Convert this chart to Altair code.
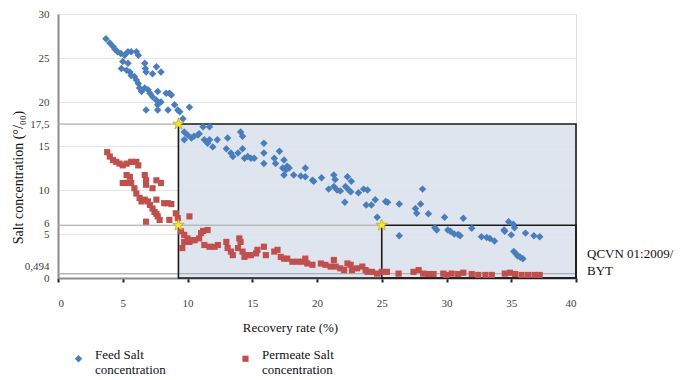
import altair as alt
import pandas as pd

# ---------------- data ----------------
series_names = ["Feed Salt concentration", "Permeate Salt concentration"]

feed_x = [3.7, 4.0, 4.25, 4.4, 4.6, 4.85, 5.15, 5.4, 5.65, 6.05, 6.2, 5.0, 4.9, 5.3, 5.4, 5.55, 5.65,
          5.9, 6.05, 6.2, 6.7, 6.75, 6.8, 7.6, 7.3, 7.95, 6.3, 6.45, 6.7, 6.95, 7.1, 7.3, 7.6, 7.7,
          7.95, 7.7, 8.35, 8.6, 8.75, 6.8, 7.7, 8.5, 9.0, 9.25, 9.4, 10.15, 9.65, 9.75, 9.75, 10.0,
          10.3, 10.5, 10.8, 10.9, 11.2, 11.7, 11.3, 11.55, 11.7, 11.95, 12.3, 13.1, 13.0, 13.35, 13.5,
          13.9, 14.1, 14.25, 14.25, 14.4, 14.65, 14.9, 15.15, 15.9, 15.9, 15.9, 16.7, 16.8, 17.1,
          17.35, 17.45, 17.7, 17.45, 17.6, 17.85, 18.2, 18.75, 19.1, 19.1, 19.65, 19.75, 20.35, 20.9,
          21.3, 21.4, 21.3, 21.55, 21.8, 22.35, 22.2, 22.45, 22.6, 22.65, 23.2, 23.6, 23.9, 22.15,
          23.8, 24.2, 24.5, 25.3, 25.45, 26.35, 24.65, 26.35, 27.6, 27.7, 28.0, 28.15, 28.6, 29.1,
          29.25, 29.85, 30.1, 30.3, 30.6, 30.9, 31.05, 31.3, 31.95, 32.7, 33.1, 33.35, 33.7, 34.45,
          34.5, 34.8, 35.15, 35.25, 35.0, 36.1, 36.75, 37.2, 35.2, 35.4, 35.5, 35.7, 35.9]
feed_y = [27.2, 26.7, 26.3, 26.0, 25.7, 25.5, 25.3, 25.7, 25.7, 25.7, 25.3, 24.6, 23.8, 23.6, 24.4,
          23.4, 23.0, 22.9, 22.5, 22.1, 24.4, 23.8, 23.4, 24.0, 23.2, 23.4, 21.6, 21.2, 21.6, 21.4,
          21.0, 20.6, 20.2, 19.7, 20.0, 21.2, 21.0, 21.0, 20.8, 19.1, 19.1, 19.1, 19.7, 19.1, 18.9,
          19.4, 18.1, 16.6, 15.7, 16.25, 15.9, 16.1, 16.25, 16.4, 17.2, 17.2, 15.7, 15.3, 15.7, 14.9,
          15.7, 15.9, 14.7, 14.2, 13.8, 14.2, 16.6, 16.1, 14.7, 13.6, 13.8, 13.6, 13.6, 15.3, 14.2,
          13.0, 13.6, 13.0, 14.4, 12.5, 11.7, 12.7, 13.4, 12.3, 12.5, 11.7, 11.6, 11.5, 12.5, 11.1,
          11.0, 11.4, 10.1, 11.7, 11.2, 10.4, 10.0, 9.9, 11.5, 10.4, 10.0, 9.8, 11.0, 9.7, 10.1, 10.0,
          8.6, 8.3, 8.3, 8.9, 8.7, 8.6, 8.4, 6.9, 4.8, 7.9, 7.35, 8.4, 10.1, 7.3, 5.7, 5.45, 6.9,
          5.45, 5.3, 5.0, 4.95, 4.8, 6.8, 5.65, 4.7, 4.6, 4.5, 4.2, 5.45, 5.3, 6.4, 6.1, 5.7, 4.9,
          5.1, 4.8, 4.7, 3.0, 2.7, 2.5, 2.35, 2.2]

perm_x = [3.8, 4.0, 4.25, 4.5, 4.75, 5.0, 5.3, 5.65, 6.05, 6.2, 5.3, 5.55, 5.0, 5.4, 5.65, 5.9, 6.05,
          6.3, 6.45, 6.7, 6.95, 7.1, 7.3, 7.45, 7.6, 7.7, 7.85, 6.7, 6.8, 6.8, 7.6, 7.3, 7.95, 7.6,
          8.2, 8.5, 8.75, 6.8, 8.6, 9.1, 9.25, 10.15, 9.5, 9.75, 10.0, 9.6, 9.75, 10.15, 10.4, 10.55,
          10.9, 11.2, 11.55, 11.05, 11.3, 11.7, 12.1, 12.35, 13.0, 13.1, 13.35, 13.5, 13.9, 14.0,
          14.1, 14.25, 14.4, 14.65, 14.9, 15.3, 15.4, 15.9, 16.05, 16.7, 16.95, 17.2, 17.45, 17.7,
          18.1, 18.5, 18.9, 19.1, 19.25, 19.65, 20.3, 20.65, 21.05, 21.3, 21.45, 21.8, 22.1, 22.35,
          22.6, 22.7, 23.1, 23.5, 23.75, 23.9, 24.25, 24.65, 25.0, 25.4, 26.3, 27.45, 27.85, 28.2,
          28.6, 29.0, 29.75, 30.0, 30.4, 30.9, 31.3, 31.95, 32.45, 33.0, 33.5, 34.5, 34.9, 35.3,
          35.8, 36.3, 36.8, 37.2]
perm_y = [14.3, 13.8, 13.4, 13.2, 13.0, 12.8, 13.0, 13.2, 13.2, 12.8, 11.7, 11.5, 10.8, 10.8, 10.8,
          10.2, 9.6, 9.1, 8.7, 8.9, 8.7, 8.3, 7.9, 7.5, 7.3, 7.0, 6.6, 11.7, 11.1, 10.6, 11.1, 10.2,
          10.8, 8.9, 8.5, 8.5, 8.4, 6.4, 6.6, 7.35, 6.8, 7.0, 5.3, 4.9, 4.5, 3.4, 4.1, 4.1, 4.3, 4.3,
          4.5, 5.35, 5.45, 5.1, 3.75, 3.55, 3.55, 3.75, 4.1, 3.4, 3.0, 2.6, 3.4, 4.5, 4.1, 3.0, 2.4,
          2.6, 2.6, 2.8, 3.2, 3.55, 2.6, 3.0, 3.2, 2.4, 2.2, 2.2, 1.85, 1.85, 1.85, 2.2, 1.65, 1.5,
          1.65, 1.5, 1.3, 2.05, 1.3, 1.1, 0.9, 1.65, 1.5, 0.9, 1.1, 1.3, 0.9, 0.7, 0.7, 0.5, 0.7,
          0.7, 0.5, 0.7, 0.9, 0.5, 0.45, 0.45, 0.5, 0.35, 0.5, 0.45, 0.6, 0.45, 0.35, 0.35, 0.35,
          0.5, 0.6, 0.45, 0.35, 0.35, 0.35, 0.35]

# thresholds / zone limits
limit_high = 17.5
limit_mid = 6
limit_low = 0.494
zone1_start = 9.3
zone2_start = 25
x_end = 40

star_x = [9.3, 9.3, 25]
star_y = [17.5, 6, 6]

x_ticks = [0, 5, 10, 15, 20, 25, 30, 35, 40]
y_ticks = [0, 0.494, 5, 6, 10, 15, 17.5, 20, 25, 30]

note_lines = ["QCVN 01:2009/", "BYT"]

# ---------------- tables ----------------
points = pd.DataFrame({
    "x": feed_x + perm_x,
    "y": feed_y + perm_y,
    "series": [series_names[0]] * len(feed_x) + [series_names[1]] * len(perm_x),
})
zones = pd.DataFrame({"x": [zone1_start, zone2_start], "x2": [x_end, x_end],
                      "y": [0, 0], "y2": [limit_high, limit_mid], "kind": ["fill", "box"]})
grey_lines = pd.DataFrame({"x": [0, 0, 0], "x2": [zone1_start, zone2_start, x_end],
                           "y": [limit_high, limit_mid, limit_low]})
stars = pd.DataFrame({"x": star_x, "y": star_y})

SERIF = "Liberation Serif"
xs = alt.Scale(domain=[0, 40], nice=False)
ys = alt.Scale(domain=[0, 30], nice=False)

x_axis = alt.Axis(values=x_ticks, title="Recovery rate (%)", grid=False,
                  domainColor="#8c8c8c", domainWidth=2, tickColor="#222222", tickWidth=2,
                  tickSize=4, labelPadding=15, labelFont=SERIF, labelFontSize=11,
                  labelColor="#404040", titleFont=SERIF, titleFontSize=13, titleFontWeight="normal",
                  titleColor="#111111", titleX=232, titleY=49, titleAlign="center",
                  titleBaseline="middle")
y_axis = alt.Axis(values=y_ticks, title="Salt concentration (°/₀₀)", grid=True,
                  gridColor="#e6e6e6", gridWidth=1, ticks=False, domainColor="#8c8c8c",
                  domainWidth=2, labelPadding=9, labelFont=SERIF, labelFontSize=11,
                  labelColor="#404040", labelOverlap=False,
                  labelExpr="replace(toString(datum.value), '.', ',')",
                  labelBaseline={"condition": {"test": "datum.value == 0.494", "value": "bottom"},
                                 "value": "middle"},
                  labelOffset={"condition": [{"test": "datum.value == 6", "value": -2},
                                             {"test": "datum.value == 0.494", "value": -2}],
                               "value": 0},
                  titleFont=SERIF, titleFontSize=14, titleFontWeight="normal", titleColor="#111111",
                  titleX=-40, titleY=163, titleAlign="center", titleBaseline="middle")

X = lambda: alt.X("x:Q", scale=xs, axis=x_axis)
Y = lambda: alt.Y("y:Q", scale=ys, axis=y_axis)

legend = alt.Legend(orient="none", legendX=14, legendY=338, direction="horizontal", title=None,
                    labelExpr="[replace(datum.label, ' concentration', ''), 'concentration']",
                    labelFont=SERIF, labelFontSize=13, labelColor="#111111", symbolSize=22,
                    labelOffset=10, columnPadding=73, labelBaseline="alphabetic", labelLimit=200)

shade = alt.Chart(zones).transform_filter("datum.kind == 'fill'").mark_rect(
    fill="#d9e0eb", fillOpacity=0.85
).encode(x=X(), x2="x2", y=Y(), y2="y2")

grey = alt.Chart(grey_lines).mark_rule(color="#a6a6a6", strokeWidth=1).encode(
    x=X(), x2="x2", y=Y())

boxes = alt.Chart(zones).mark_rect(stroke="#1a1a1a", strokeWidth=1.6, fillOpacity=0).encode(
    x=X(), x2="x2", y=Y(), y2="y2")

pts = alt.Chart(points).mark_point(filled=True, opacity=1, strokeWidth=0).encode(
    x=X(), y=Y(),
    color=alt.Color("series:N", scale=alt.Scale(domain=series_names, range=["#4a7ebb", "#c0504d"]),
                    legend=legend),
    shape=alt.Shape("series:N", scale=alt.Scale(domain=series_names, range=["diamond", "square"]),
                    legend=legend),
    size=alt.Size("series:N", scale=alt.Scale(domain=series_names, range=[56, 38]), legend=None),
)

STAR = ("M0,-1L0.2245,-0.309L0.951,-0.309L0.363,0.118L0.588,0.809L0,0.382"
        "L-0.588,0.809L-0.363,0.118L-0.951,-0.309L-0.2245,-0.309Z")
star_layer = alt.Chart(stars).mark_point(shape=STAR, filled=True, fill="#f6e63c", stroke="#c8a415",
                                         strokeWidth=0.8, size=150, opacity=1).encode(
    x=X(), y=Y())

note = alt.Chart(pd.DataFrame({"a": [0]})).mark_text(
    text=note_lines, align="left", baseline="top", font=SERIF, fontSize=13, color="#111111",
    lineHeight=17
).encode(x=alt.value(529), y=alt.value(234))

chart = alt.layer(shade, grey, boxes, pts, star_layer, note).properties(
    width=518, height=264,
    padding={"left": 50, "top": 6, "right": 102, "bottom": 102},
    autosize=alt.AutoSizeParams(type="none"),
).configure_view(stroke=None).configure(background="white", font=SERIF).configure_axis(
    labelFont=SERIF, titleFont=SERIF
).configure_legend(labelFont=SERIF).configure_text(font=SERIF)

chart.save("out.html", embed_options={"renderer": "svg", "actions": False})
